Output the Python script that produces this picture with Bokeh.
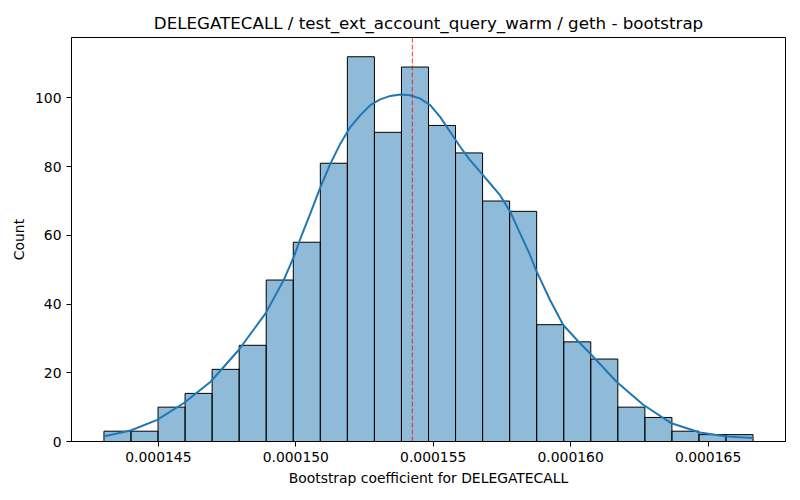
from bokeh.plotting import figure
from bokeh.models import FixedTicker, NumeralTickFormatter, Span, Range1d, ColumnDataSource
from bokeh.embed import file_html
from bokeh.resources import INLINE

# ---- data ----
title_text = "DELEGATECALL / test_ext_account_query_warm / geth - bootstrap"
x_label = "Bootstrap coefficient for DELEGATECALL"
y_label = "Count"

bin_start = 0.00014302
bin_width = 9.84e-7
counts = [3, 3, 10, 14, 21, 28, 47, 58, 81, 112, 90, 109,
          92, 84, 70, 67, 34, 29, 24, 10, 7, 3, 2, 2]

kde_x = [0.00014300, 0.00014399, 0.00014496, 0.00014593, 0.00014690, 0.00014793,
         0.00014890, 0.00014956, 0.00014993, 0.00015017, 0.00015053, 0.00015090,
         0.00015126, 0.00015162, 0.00015199, 0.00015235, 0.00015271, 0.00015307,
         0.00015344, 0.00015380, 0.00015416, 0.00015453, 0.00015489, 0.00015525,
         0.00015562, 0.00015598, 0.00015634, 0.00015671, 0.00015707, 0.00015743,
         0.00015780, 0.00015816, 0.00015852, 0.00015874, 0.00015925, 0.00015973,
         0.00016028, 0.00016070, 0.00016167, 0.00016264, 0.00016367, 0.00016470,
         0.00016567, 0.00016663]
kde_y = [1.45, 3.2, 6.3, 11.2, 17.4, 26.7,
         37.3, 47.0, 53.8, 59.1, 66.4, 74.1,
         80.9, 86.7, 91.6, 95.0, 97.9, 99.6,
         100.6, 101.0, 100.8, 99.8, 97.9, 94.5,
         90.1, 85.8, 81.9, 78.5, 75.1, 71.7,
         66.9, 60.6, 54.3, 49.9, 41.2, 33.9,
         29.1, 25.7, 17.4, 10.7, 5.3, 2.6,
         1.45, 0.99]

mean_value = 0.00015424
x_ticks = [0.000145, 0.000150, 0.000155, 0.000160, 0.000165]
y_ticks = [0, 20, 40, 60, 80, 100]

# ---- derived ----
lefts = [bin_start + i * bin_width for i in range(len(counts))]
rights = [l + bin_width for l in lefts]
x_lo = bin_start
x_hi = bin_start + bin_width * len(counts)
pad = 0.05 * (x_hi - x_lo)
y_top = max(counts) * 1.05

FONT = "DejaVu Sans"

p = figure(width=792, height=492, output_backend="svg", toolbar_location=None,
           x_range=Range1d(x_lo - pad, x_hi + pad), y_range=Range1d(0, y_top),
           min_border_left=71, min_border_right=7, min_border_top=37, min_border_bottom=51)

p.title.text = title_text
p.title.text_font = FONT
p.title.text_font_size = "16.7px"
p.title.text_font_style = "normal"
p.title.align = "center"
p.title.text_color = "black"

p.xgrid.visible = False
p.ygrid.visible = False
p.outline_line_color = "black"
p.outline_line_width = 1
p.outline_line_alpha = 1

src = ColumnDataSource(dict(left=lefts, right=rights, top=counts))
p.quad(left="left", right="right", bottom=0, top="top", source=src,
       fill_color="#1f77b4", fill_alpha=0.5, line_color="black", line_width=1)

p.line(kde_x, kde_y, line_color="#1f77b4", line_width=2, line_join="round")

p.add_layout(Span(location=mean_value, dimension="height", line_color="red",
                  line_alpha=0.8, line_dash="5 2", line_width=1))

for ax in (p.xaxis[0], p.yaxis[0]):
    ax.major_label_text_font = FONT
    ax.major_label_text_font_size = "13.9px"
    ax.major_label_text_color = "black"
    ax.axis_label_text_font = FONT
    ax.axis_label_text_font_size = "13.9px"
    ax.axis_label_text_font_style = "normal"
    ax.axis_label_text_color = "black"
    ax.axis_line_color = "black"
    ax.major_tick_line_color = "black"
    ax.major_tick_out = 5
    ax.major_tick_in = 0
    ax.minor_tick_line_color = None

p.xaxis[0].ticker = FixedTicker(ticks=x_ticks)
p.xaxis[0].formatter = NumeralTickFormatter(format="0.000000")
p.xaxis[0].axis_label = x_label
p.yaxis[0].ticker = FixedTicker(ticks=y_ticks)
p.yaxis[0].axis_label = y_label

with open("out.html", "w") as f:
    f.write(file_html(p, INLINE))
